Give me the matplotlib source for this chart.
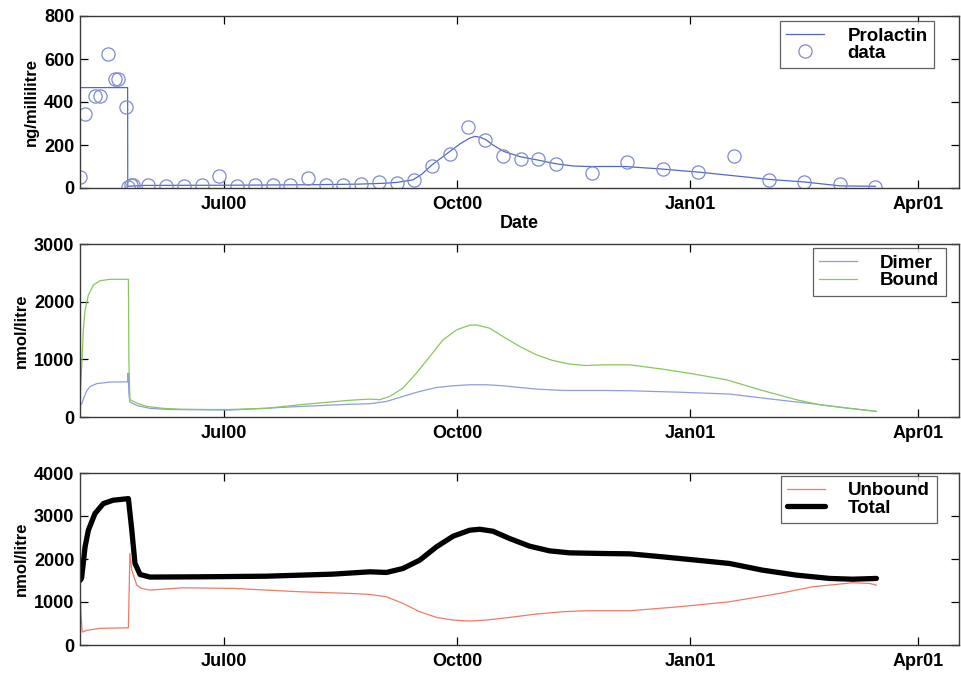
import matplotlib
matplotlib.use("Agg")
import matplotlib.pyplot as plt
import matplotlib.dates as mdates
from datetime import datetime, timedelta

# ---------------- data ----------------
start_date = datetime(2000, 5, 5)
x_limits = ["2000-05-05", "2001-04-17"]
x_ticks = ["2000-07-01", "2000-10-01", "2001-01-01", "2001-04-01"]

data_dates = ["2000-05-05", "2000-05-07", "2000-05-11", "2000-05-13", "2000-05-16",
              "2000-05-19", "2000-05-20", "2000-05-23", "2000-05-24", "2000-05-25",
              "2000-05-26", "2000-06-01", "2000-06-08", "2000-06-15", "2000-06-22",
              "2000-06-29", "2000-07-06", "2000-07-13", "2000-07-20", "2000-07-27",
              "2000-08-03", "2000-08-10", "2000-08-17", "2000-08-24", "2000-08-31",
              "2000-09-07", "2000-09-14", "2000-09-21", "2000-09-28", "2000-10-05",
              "2000-10-12", "2000-10-19", "2000-10-26", "2000-11-02", "2000-11-09",
              "2000-11-23", "2000-12-07", "2000-12-21", "2001-01-04", "2001-01-18",
              "2001-02-01", "2001-02-15", "2001-03-01", "2001-03-15"]
data_values = [50, 345, 426, 429, 622, 509, 509, 375, 5, 15,
               15, 12, 10, 7, 15, 54, 10, 12, 15, 14,
               45, 15, 12, 20, 30, 25, 35, 104, 160, 283,
               224, 151, 136, 137, 111, 70, 119, 88, 73, 147,
               36, 26, 19, 5]

# fitted prolactin (days since start, ng/ml)
prl_days = [0, 0.05, 18.8, 18.85, 25, 60, 90, 110, 120, 125, 131.5, 135, 139, 146,
            150, 153.8, 156, 158, 160.2, 163, 167.3, 174, 180.7, 188.2, 195, 201,
            215, 230, 245, 272, 286, 300, 314]
prl_vals = [0, 467, 467, 8, 12, 13, 15, 18, 22, 26, 38, 65, 108, 170,
            205, 232, 240, 236, 225, 200, 170, 145, 130, 112, 102, 100,
            100, 88, 73, 40, 28, 10, 8]

# dimer / bound (days, nmol/l)
dimer_days = [0, 0.8, 1.5, 2.6, 4, 6.7, 11.8, 18.9, 19.0, 19.3, 19.7, 22.4, 27.6,
              35.5, 59.2, 86.8, 106.5, 114.4, 121, 127.5, 134.1, 140.7, 147.3,
              153.8, 160.4, 167, 173.6, 180.2, 190.7, 206.4, 217, 236.7, 256.4,
              269.4, 280, 289.2, 302.6, 314.4]
dimer_vals = [200, 240, 330, 450, 530, 580, 605, 610, 760, 400, 260, 200, 150,
              130, 120, 183, 220, 230, 270, 357, 443, 512, 541,
              559, 559, 541, 512, 484, 460, 460, 455, 430, 398,
              329, 275, 230, 156, 97]

bound_days = [0, 0.8, 1.3, 2.0, 3.3, 5.3, 7.9, 11.8, 19.1, 19.3, 19.7, 22.4, 26.3,
              32.9, 40, 50, 59, 73.6, 86.8, 106.5, 114.4, 118.3, 122.3, 127.5,
              132.8, 138.1, 143.3, 148.6, 153.8, 156.5, 161.7, 167, 173.6, 180.2,
              186.7, 193.3, 199.9, 206.4, 217, 230, 241.8, 255.2, 269.4, 282.8,
              291.9, 302.6, 314.4]
bound_vals = [300, 1000, 1510, 1855, 2115, 2290, 2363, 2388, 2388, 1000, 300, 242, 183,
              150, 135, 130, 130, 150, 213, 290, 311, 300, 357, 502,
              761, 1049, 1337, 1510, 1592, 1597, 1540, 1395, 1222, 1078,
              979, 917, 893, 905, 905, 830, 749, 645, 460, 300,
              213, 156, 97]

# unbound / total (days, nmol/l)
unbound_days = [0, 0.4, 0.9, 2.6, 7.9, 19.0, 19.1, 19.7, 20.4, 22.4, 24.3, 27.6,
                40.7, 60.4, 86.8, 106.5, 114.4, 121, 127.5, 134.1, 140.7, 147.3,
                153.8, 160.4, 169.6, 180.2, 190.7, 199.9, 217, 236.7, 256.4, 276.1,
                289.2, 304.9, 311.6, 314.4]
unbound_vals = [1238, 700, 300, 340, 387, 400, 400, 2128, 1750, 1393, 1316, 1277,
                1330, 1316, 1238, 1200, 1176, 1121, 968, 774, 642, 580,
                557, 580, 642, 720, 774, 797, 797, 890, 1006, 1199,
                1354, 1447, 1432, 1393]

total_days = [0, 0.6, 1.1, 2.0, 3.3, 5.9, 9.2, 13, 19.1, 20.4, 21.7, 23.7, 27.6,
              47.3, 73.6, 99.8, 114.4, 121, 127.5, 134.1, 140.7, 147.3, 153.8,
              157.8, 163, 169.6, 177.5, 185.4, 193.3, 206.4, 217, 230, 243.4,
              256.4, 269.4, 282.8, 295.9, 305, 314.4]
total_vals = [1500, 1550, 1800, 2282, 2669, 3056, 3288, 3366, 3404, 2700, 1900, 1640, 1580,
              1586, 1600, 1648, 1702, 1687, 1780, 1973, 2282, 2530, 2669,
              2692, 2646, 2476, 2298, 2189, 2143, 2128, 2120, 2050, 1973,
              1896, 1741, 1625, 1548, 1530, 1548]


def to_dates(days):
    return [start_date + timedelta(days=float(d)) for d in days]


def parse(ds):
    return [datetime.strptime(d, "%Y-%m-%d") for d in ds]


# ---------------- style ----------------
FONT = "Liberation Sans"
plt.rcParams["font.family"] = [FONT, "DejaVu Sans"]
plt.rcParams["font.weight"] = "bold"

fig = plt.figure(figsize=(9.61, 6.73), dpi=100)
W, H = 961.0, 673.0
left, right = 80 / W, 959 / W
boxes = [(16, 188), (244, 417), (473, 645)]
axes = []
for top, bot in boxes:
    ax = fig.add_axes([left, 1 - bot / H, right - left, (bot - top) / H])
    axes.append(ax)

xl = parse(x_limits)
xt = parse(x_ticks)
spine_col = "#3a3a3a"
for ax in axes:
    ax.set_xlim(xl[0], xl[1])
    ax.set_xticks(xt)
    ax.xaxis.set_major_formatter(mdates.DateFormatter("%b%y"))
    ax.tick_params(direction="in", length=6, width=0.9, top=True, right=True,
                   labelsize=13, pad=6, colors="black")
    ax.tick_params(axis="y", pad=4)
    for s in ax.spines.values():
        s.set_color(spine_col)
        s.set_linewidth(1.0)
    for lab in ax.get_xticklabels() + ax.get_yticklabels():
        lab.set_fontweight("bold")


def add_legend(ax, anchor):
    leg = ax.legend(loc="upper right", bbox_to_anchor=anchor, borderaxespad=0,
                    fontsize=13.5, frameon=True, fancybox=False, handlelength=2.0,
                    borderpad=0.35, labelspacing=0.0, handletextpad=1.25)
    leg.get_frame().set_edgecolor(spine_col)
    leg.get_frame().set_linewidth(0.9)
    return leg


# --- top: prolactin
ax = axes[0]
ax.plot(to_dates(prl_days), prl_vals, color="#5268c8", lw=0.9, label="Prolactin")
ax.plot(parse(data_dates), data_values, linestyle="none", marker="o", ms=9.5,
        mfc="none", mec="#7d8bd0", mew=0.9, label="data")
ax.set_ylim(0, 800)
ax.set_yticks([0, 200, 400, 600, 800])
ax.set_ylabel("ng/millilitre", fontsize=12, fontweight="bold", labelpad=4)
ax.set_xlabel("Date", fontsize=13, fontweight="bold", labelpad=1)
add_legend(ax, (0.9716, 0.971))

# --- middle: dimer / bound
ax = axes[1]
ax.plot(to_dates(dimer_days), dimer_vals, color="#8e9de0", lw=0.9, label="Dimer")
ax.plot(to_dates(bound_days), bound_vals, color="#86c85a", lw=0.9, label="Bound")
ax.set_ylim(0, 3000)
ax.set_yticks([0, 1000, 2000, 3000])
ax.set_ylabel("nmol/litre", fontsize=12, fontweight="bold", labelpad=4)
add_legend(ax, (0.985, 0.975))

# --- bottom: unbound / total
ax = axes[2]
ax.plot(to_dates(unbound_days), unbound_vals, color="#f07a64", lw=0.9, label="Unbound")
ax.plot(to_dates(total_days), total_vals, color="black", lw=3.8, label="Total",
        solid_joinstyle="round", solid_capstyle="round")
ax.set_ylim(0, 4000)
ax.set_yticks([0, 1000, 2000, 3000, 4000])
ax.set_ylabel("nmol/litre", fontsize=12, fontweight="bold", labelpad=4)
add_legend(ax, (0.9746, 0.984))

fig.savefig("out.png", dpi=100, facecolor="white")
